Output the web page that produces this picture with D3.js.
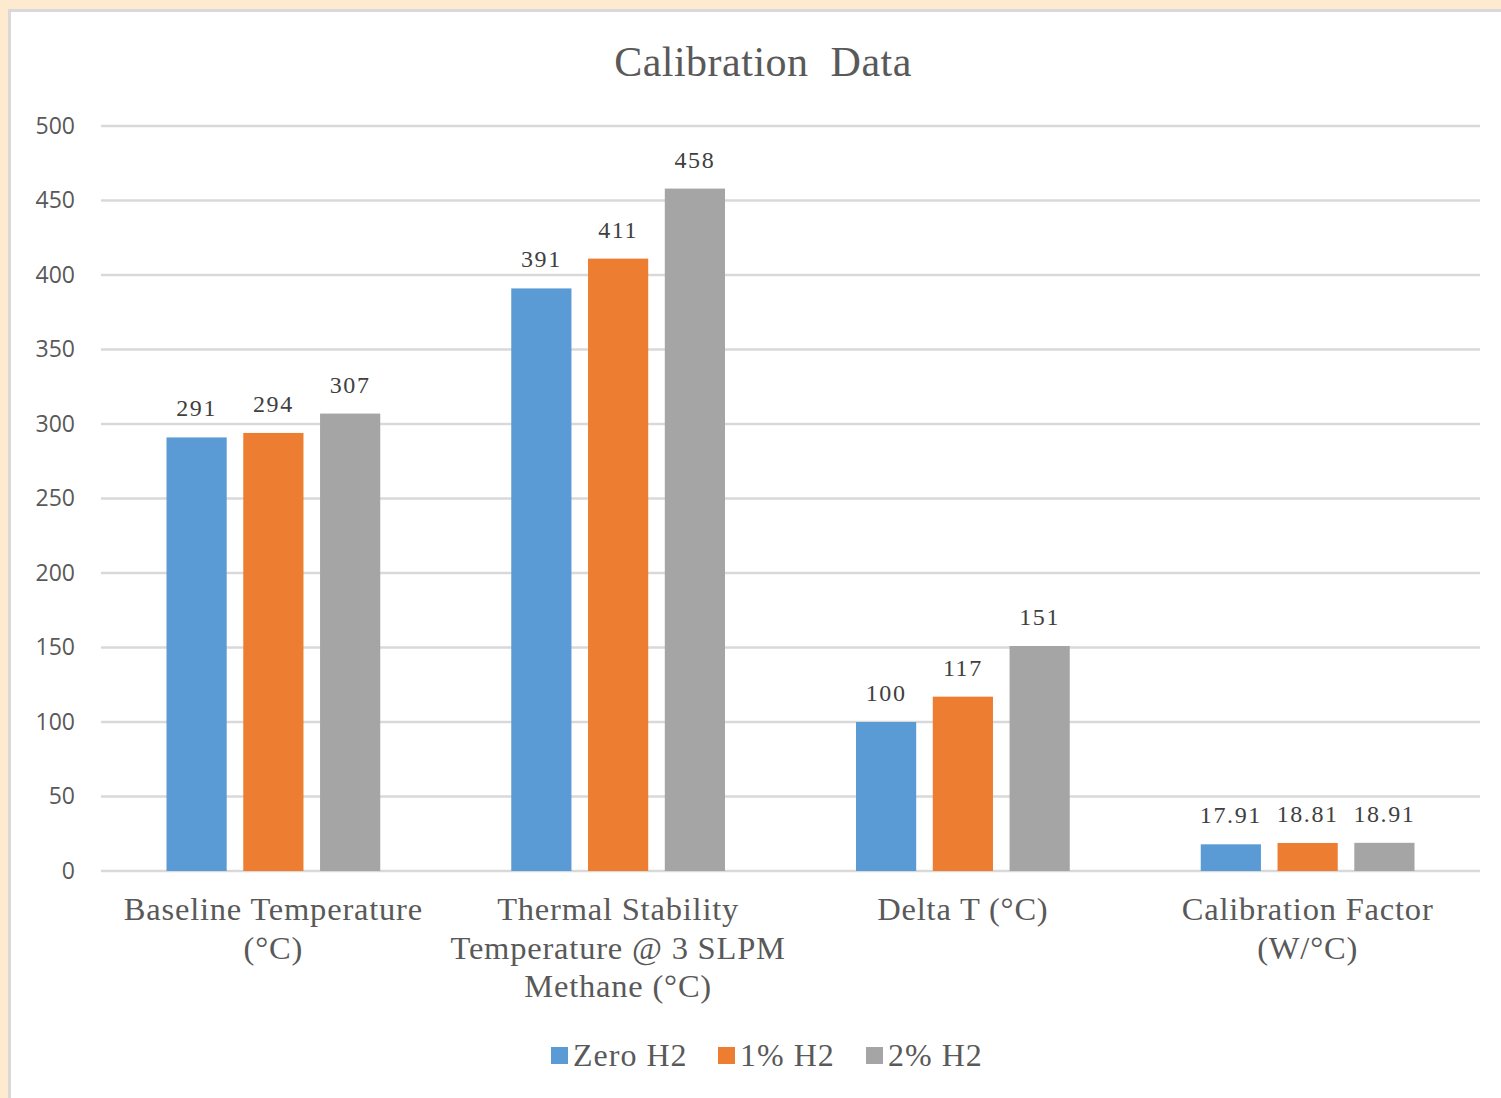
<!DOCTYPE html>
<html>
<head>
<meta charset="utf-8">
<script src="https://cdn.jsdelivr.net/npm/d3@7"></script>
<style>
  html, body { margin: 0; padding: 0; background: #FEEBCF; }
  svg { display: block; }
</style>
</head>
<body>
<svg id="chart" width="1501" height="1098"></svg>
<script>
// Calibration measurements per category and hydrogen blend
const categories = [
  ["Baseline Temperature", "(°C)"],
  ["Thermal Stability", "Temperature @ 3 SLPM", "Methane (°C)"],
  ["Delta T (°C)"],
  ["Calibration Factor", "(W/°C)"]
];
const seriesNames = ["Zero H2", "1% H2", "2% H2"];
const zeroH2 = [291, 391, 100, 17.91];
const oneH2 = [294, 411, 117, 18.81];
const twoH2 = [307, 458, 151, 18.91];
const valueLabels = [
  ["291", "391", "100", "17.91"],
  ["294", "411", "117", "18.81"],
  ["307", "458", "151", "18.91"]
];
const yTicks = [0, 50, 100, 150, 200, 250, 300, 350, 400, 450, 500];
const colors = ["#5B9BD5", "#ED7D31", "#A5A5A5"];

const series = [zeroH2, oneH2, twoH2];
const svg = d3.select("#chart");

// White chart panel with light gray frame
svg.append("rect")
  .attr("x", 9.5).attr("y", 10.5)
  .attr("width", 1500).attr("height", 1100)
  .attr("fill", "#fff").attr("stroke", "#D9D9D9").attr("stroke-width", 3);

const margin = { left: 101, right: 21, top: 126, bottom: 227 };
const W = 1501, H = 1098;

const x0 = d3.scaleBand()
  .domain(d3.range(categories.length))
  .range([margin.left, W - margin.right])
  .paddingInner(0.38).paddingOuter(0.19);
const x1 = d3.scaleBand()
  .domain(d3.range(seriesNames.length))
  .range([0, x0.bandwidth()])
  .paddingInner(0.216);
const y = d3.scaleLinear().domain([0, 500]).range([H - margin.bottom, margin.top]);

// Gridlines
svg.append("g")
  .selectAll("line").data(yTicks).join("line")
  .attr("x1", margin.left).attr("x2", W - margin.right)
  .attr("y1", d => y(d)).attr("y2", d => y(d))
  .attr("stroke", "#D9D9D9").attr("stroke-width", 2.5);

// Y axis labels
const yAxis = d3.axisLeft(y).tickValues(yTicks).tickSize(0).tickPadding(26);
const yg = svg.append("g").attr("transform", `translate(${margin.left},0)`).call(yAxis);
yg.select(".domain").remove();
yg.selectAll("text")
  .attr("font-family", "'Open Sans', 'Liberation Sans', sans-serif")
  .attr("font-size", 23).attr("fill", "#595959");

// Bars with value labels
const groups = svg.append("g").selectAll("g")
  .data(series).join("g")
  .attr("fill", (d, i) => colors[i]);

groups.each(function (vals, si) {
  const g = d3.select(this);
  g.selectAll("rect").data(vals).join("rect")
    .attr("x", (d, ci) => x0(ci) + x1(si))
    .attr("y", d => y(d))
    .attr("width", x1.bandwidth())
    .attr("height", d => y(0) - y(d));
  g.selectAll("text").data(vals).join("text")
    .attr("x", (d, ci) => x0(ci) + x1(si) + x1.bandwidth() / 2)
    .attr("y", d => y(d) - 21)
    .attr("text-anchor", "middle")
    .attr("font-family", "'Liberation Serif', serif")
    .attr("font-size", 24).attr("letter-spacing", 1.6)
    .attr("fill", "#404040")
    .text((d, ci) => valueLabels[si][ci]);
});

// Category labels
const catG = svg.append("g");
categories.forEach((lines, ci) => {
  const cx = x0(ci) + x0.bandwidth() / 2;
  const t = catG.append("text")
    .attr("x", cx)
    .attr("y", 920)
    .attr("text-anchor", "middle")
    .attr("font-family", "'Liberation Serif', serif")
    .attr("font-size", 32.5).attr("letter-spacing", 0.8)
    .attr("fill", "#595959");
  lines.forEach((ln, li) => {
    t.append("tspan").attr("x", cx)
      .attr("dy", li === 0 ? 0 : 38.5).text(ln);
  });
});

// Title
svg.append("text")
  .attr("x", 763).attr("y", 76)
  .attr("text-anchor", "middle")
  .attr("font-family", "'Liberation Serif', serif")
  .attr("font-size", 42).attr("letter-spacing", 0.5)
  .attr("fill", "#595959")
  .attr("xml:space", "preserve")
  .text("Calibration  Data");

// Legend
const legendX = [551, 718, 866];
const lg = svg.append("g");
seriesNames.forEach((name, i) => {
  lg.append("rect")
    .attr("x", legendX[i]).attr("y", 1047)
    .attr("width", 17).attr("height", 17)
    .attr("fill", colors[i]);
  lg.append("text")
    .attr("x", legendX[i] + 22).attr("y", 1066)
    .attr("font-family", "'Liberation Serif', serif")
    .attr("font-size", 32).attr("letter-spacing", 1)
    .attr("fill", "#595959")
    .text(name);
});
</script>
</body>
</html>
